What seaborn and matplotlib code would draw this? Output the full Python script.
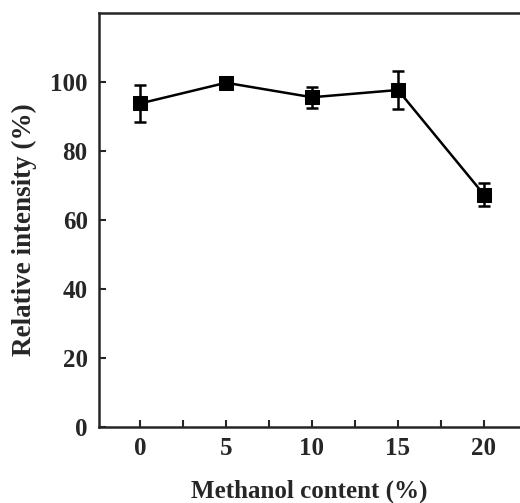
import matplotlib
matplotlib.use("Agg")
import matplotlib.pyplot as plt
import seaborn as sns
import pandas as pd
from matplotlib.ticker import MultipleLocator

methanol = [0, 5, 10, 15, 20]
intensity = [93.8, 99.8, 95.6, 97.7, 67.4]
error = [5.3, 1.0, 3.1, 5.5, 3.3]
x_ticks = [0, 5, 10, 15, 20]
y_ticks = [0, 20, 40, 60, 80, 100]

df = pd.DataFrame({"methanol": methanol, "intensity": intensity, "error": error})

sns.set_style("ticks")
plt.rcParams['font.family'] = ['Liberation Serif', 'DejaVu Serif']
plt.rcParams['font.weight'] = 'bold'

fig = plt.figure(figsize=(5.2, 5.03), dpi=100)
ax = fig.add_axes([0.19, 0.151, 0.81, 0.823])

ax.errorbar(df["methanol"], df["intensity"], yerr=df["error"], fmt="none",
            ecolor="black", elinewidth=1.8, capsize=4.5, capthick=1.8, zorder=2)
sns.lineplot(data=df, x="methanol", y="intensity", ax=ax, color="black",
             linewidth=1.8, marker="s", markersize=9.5, markeredgecolor="black",
             markerfacecolor="black", zorder=3)

ax.set_xlim(-2.4, 22.1)
ax.set_ylim(0, 120)
ax.set_xticks(x_ticks)
ax.set_yticks(y_ticks)
ax.xaxis.set_minor_locator(MultipleLocator(2.5))
ax.tick_params(axis="both", which="both", direction="in", width=1.5, length=5,
               labelsize=18, pad=8)
ax.tick_params(axis="x", which="major", pad=7)
for lab in ax.get_xticklabels() + ax.get_yticklabels():
    lab.set_fontweight("bold")

for s in ["left", "bottom", "top"]:
    ax.spines[s].set_linewidth(1.8)
    ax.spines[s].set_visible(True)
ax.spines["right"].set_visible(False)

ax.set_xlabel("Methanol content (%)", fontsize=18, fontweight="bold", labelpad=14)
ax.set_ylabel("Relative intensity (%)", fontsize=19.5, fontweight="bold")
ax.yaxis.set_label_coords(-0.147, 0.478)

fig.savefig("out.png", dpi=100)
